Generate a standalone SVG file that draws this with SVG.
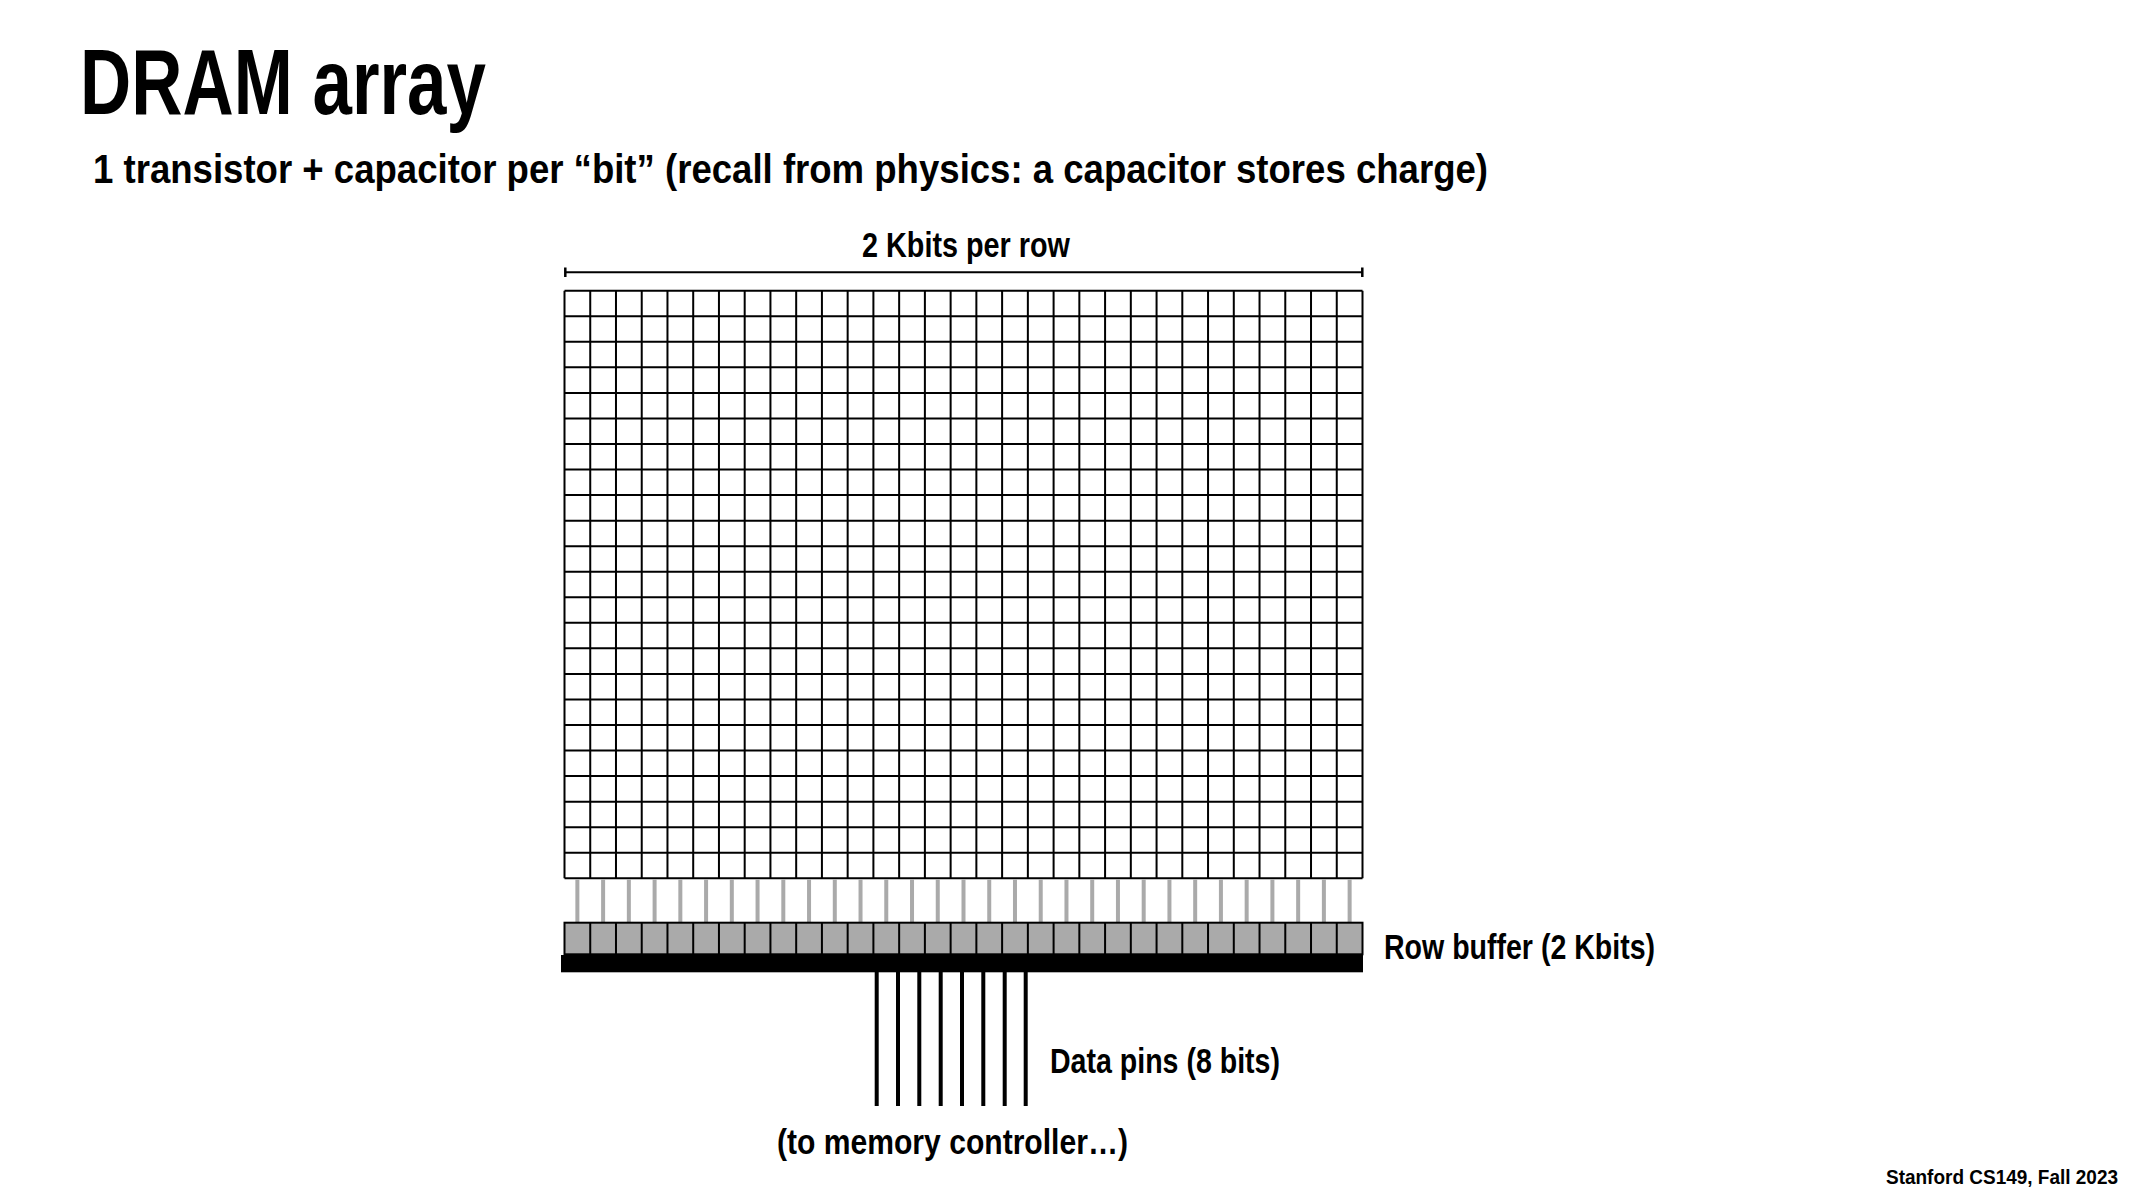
<svg xmlns="http://www.w3.org/2000/svg" width="2133" height="1200" viewBox="0 0 2133 1200">
  <style>
    .t { font-family: "Liberation Sans Narrow", "Liberation Sans", "DejaVu Sans Condensed", sans-serif; font-weight: bold; fill: #000; }
    .grid { fill: none; stroke: #000; stroke-width: 2; }
  </style>
  <rect width="2133" height="1200" fill="#fff"/>

  <g id="title">
    <text class="t" x="80" y="114" font-size="92" textLength="406" lengthAdjust="spacingAndGlyphs">DRAM array</text>
  </g>
  <g id="subtitle">
    <text class="t" x="93" y="183" font-size="40" textLength="1395" lengthAdjust="spacingAndGlyphs">1 transistor + capacitor per “bit” (recall from physics: a capacitor stores charge)</text>
  </g>

  <g id="dimension">
    <text class="t" x="862" y="257" font-size="35" textLength="208" lengthAdjust="spacingAndGlyphs">2 Kbits per row</text>
    <line x1="565.3" y1="272.3" x2="1362.3" y2="272.3" stroke="#000" stroke-width="2"/>
    <line x1="565.3" y1="267.5" x2="565.3" y2="277" stroke="#000" stroke-width="2.5"/>
    <line x1="1362.3" y1="267.5" x2="1362.3" y2="277" stroke="#000" stroke-width="2.5"/>
  </g>

  <g id="dram-array">
    <rect x="564.5" y="290.7" width="798" height="587.6" fill="#fff" stroke="none"/>
    <path class="grid" d="M564.5 290.7V878.3M590.24 290.7V878.3M615.98 290.7V878.3M641.73 290.7V878.3M667.47 290.7V878.3M693.21 290.7V878.3M718.95 290.7V878.3M744.69 290.7V878.3M770.44 290.7V878.3M796.18 290.7V878.3M821.92 290.7V878.3M847.66 290.7V878.3M873.4 290.7V878.3M899.15 290.7V878.3M924.89 290.7V878.3M950.63 290.7V878.3M976.37 290.7V878.3M1002.11 290.7V878.3M1027.86 290.7V878.3M1053.6 290.7V878.3M1079.34 290.7V878.3M1105.08 290.7V878.3M1130.82 290.7V878.3M1156.57 290.7V878.3M1182.31 290.7V878.3M1208.05 290.7V878.3M1233.79 290.7V878.3M1259.53 290.7V878.3M1285.28 290.7V878.3M1311.02 290.7V878.3M1336.76 290.7V878.3M1362.5 290.7V878.3
    M564.5 290.7H1362.5M564.5 316.25H1362.5M564.5 341.8H1362.5M564.5 367.34H1362.5M564.5 392.89H1362.5M564.5 418.44H1362.5M564.5 443.99H1362.5M564.5 469.54H1362.5M564.5 495.08H1362.5M564.5 520.63H1362.5M564.5 546.18H1362.5M564.5 571.73H1362.5M564.5 597.28H1362.5M564.5 622.82H1362.5M564.5 648.37H1362.5M564.5 673.92H1362.5M564.5 699.47H1362.5M564.5 725.02H1362.5M564.5 750.56H1362.5M564.5 776.11H1362.5M564.5 801.66H1362.5M564.5 827.21H1362.5M564.5 852.76H1362.5M564.5 878.3H1362.5"/>
  </g>

  <g id="connectors">
    <g id="bitlines">
      <path d="M577.37 879.5V922M603.11 879.5V922M628.85 879.5V922M654.6 879.5V922M680.34 879.5V922M706.08 879.5V922M731.82 879.5V922M757.56 879.5V922M783.31 879.5V922M809.05 879.5V922M834.79 879.5V922M860.53 879.5V922M886.27 879.5V922M912.02 879.5V922M937.76 879.5V922M963.5 879.5V922M989.24 879.5V922M1014.98 879.5V922M1040.73 879.5V922M1066.47 879.5V922M1092.21 879.5V922M1117.95 879.5V922M1143.69 879.5V922M1169.44 879.5V922M1195.18 879.5V922M1220.92 879.5V922M1246.66 879.5V922M1272.4 879.5V922M1298.15 879.5V922M1323.89 879.5V922M1349.63 879.5V922" stroke="#aaaaaa" stroke-width="4"/>
    </g>
    <g id="data-pins">
      <path d="M876.7 972V1106M898 972V1106M919.3 972V1106M940.7 972V1106M962 972V1106M983.3 972V1106M1004.7 972V1106M1025.7 972V1106" stroke="#000" stroke-width="4"/>
    </g>
  </g>

  <g id="row-buffer">
    <rect x="564.5" y="922.7" width="798" height="31.6" fill="#aaaaaa" stroke="#000" stroke-width="2"/>
    <path d="M590.24 922.7V954.3M615.98 922.7V954.3M641.73 922.7V954.3M667.47 922.7V954.3M693.21 922.7V954.3M718.95 922.7V954.3M744.69 922.7V954.3M770.44 922.7V954.3M796.18 922.7V954.3M821.92 922.7V954.3M847.66 922.7V954.3M873.4 922.7V954.3M899.15 922.7V954.3M924.89 922.7V954.3M950.63 922.7V954.3M976.37 922.7V954.3M1002.11 922.7V954.3M1027.86 922.7V954.3M1053.6 922.7V954.3M1079.34 922.7V954.3M1105.08 922.7V954.3M1130.82 922.7V954.3M1156.57 922.7V954.3M1182.31 922.7V954.3M1208.05 922.7V954.3M1233.79 922.7V954.3M1259.53 922.7V954.3M1285.28 922.7V954.3M1311.02 922.7V954.3M1336.76 922.7V954.3" stroke="#000" stroke-width="2" fill="none"/>
    <rect x="561" y="955" width="802" height="17.3" fill="#000"/>
    <text class="t" x="1384" y="959" font-size="35" textLength="271" lengthAdjust="spacingAndGlyphs">Row buffer (2 Kbits)</text>
  </g>

  <g id="labels">
    <text class="t" x="1050" y="1073" font-size="35" textLength="230" lengthAdjust="spacingAndGlyphs">Data pins (8 bits)</text>
    <text class="t" x="777" y="1154" font-size="35" textLength="351" lengthAdjust="spacingAndGlyphs">(to memory controller…)</text>
  </g>

  <g id="footer">
    <text class="t" x="1886" y="1184" font-size="20" textLength="232" lengthAdjust="spacingAndGlyphs">Stanford CS149, Fall 2023</text>
  </g>
</svg>
